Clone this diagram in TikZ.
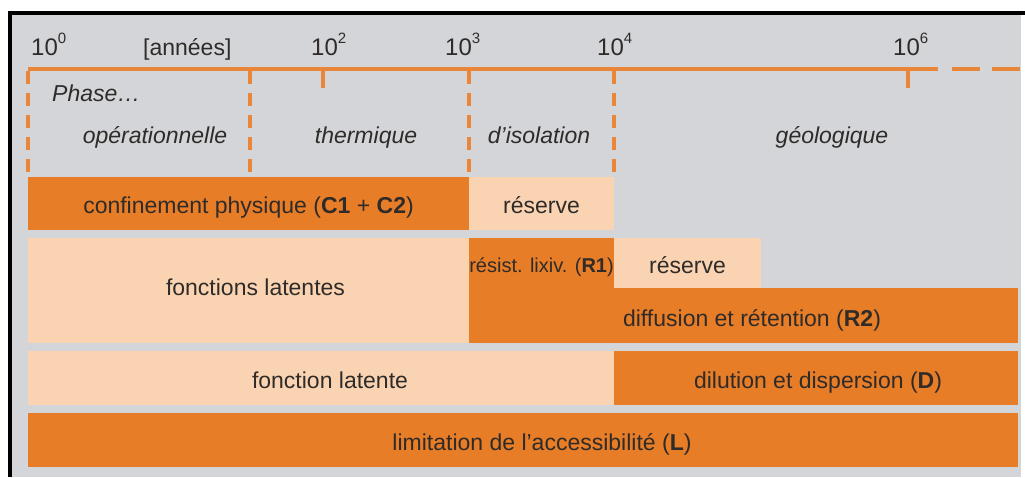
\documentclass[tikz,border=0pt]{standalone}
\usepackage{fontspec}
\setmainfont{Liberation Sans}
\definecolor{panel}{HTML}{D3D5D9}
\definecolor{hot}{HTML}{E87D28}
\definecolor{pale}{HTML}{FAD4B2}
\definecolor{axisc}{HTML}{E9863A}
\definecolor{ink}{HTML}{2F2B29}
\newcommand\pw[1]{10\raisebox{0.5em}{\fontsize{15}{15}\selectfont #1}}
\begin{document}
\begin{tikzpicture}[x=1pt,y=-1pt,
  txt/.style={text=ink,font=\fontsize{23}{27}\selectfont,inner sep=0pt},
  lbl/.style={txt,anchor=base},
  scale lbl/.style={txt,anchor=base west,font=\fontsize{24}{28}\selectfont},
  phase/.style={txt,font=\fontsize{23}{27}\selectfont\itshape},
  box/.style={inner sep=0pt,outer sep=0pt,draw=none},
  hotbox/.style={box,fill=hot},
  palebox/.style={box,fill=pale},
  axisline/.style={draw=axisc,line width=3.5pt},
  limit/.style={axisline,dash pattern=on 13pt off 9pt},
  tick/.style={axisline}]
% frame and background
\useasboundingbox (0,0) rectangle (1025,477);
\fill[white] (0,0) rectangle (1025,477);
\fill[panel] (8,11) rectangle (1021,477);
\draw[black,line width=4pt] (10,477) -- (10,13) -- (1025,13);

% time scale
\node[scale lbl] (t0) at (31,55) {\pw{0}};
\node[txt,anchor=base west] (unit) at (143,55) {[années]};
\node[scale lbl] (t2) at (311,55) {\pw{2}};
\node[scale lbl] (t3) at (445,55) {\pw{3}};
\node[scale lbl] (t4) at (597,55) {\pw{4}};
\node[scale lbl] (t6) at (893,55) {\pw{6}};

\coordinate (a0) at (28,69);
\coordinate (a1) at (250,69);
\coordinate (a2) at (323,69);
\coordinate (a3) at (469,69);
\coordinate (a4) at (614,69);
\coordinate (a6) at (908,69);
\coordinate (aend) at (938,69);
\coordinate (d1s) at (952,69);
\coordinate (d1e) at (980,69);
\coordinate (d2s) at (992,69);
\coordinate (d2e) at (1020,69);
\draw[axisline] (a0) -- (aend);
\draw[axisline] (d1s) -- (d1e);
\draw[axisline] (d2s) -- (d2e);
\draw[tick] (a2) -- ++(0,19);
\draw[tick] (a6) -- ++(0,19);
\foreach \c in {a0,a1,a3,a4}
  \draw[limit] ([yshift=-1.7pt]\c) -- ++(0,104);

% phases
\node[phase,anchor=base west] (ph) at (52,101) {Phase\ldots};
\node[phase,anchor=base] (p1) at (155,143) {opérationnelle};
\node[phase,anchor=base] (p2) at (366,143) {thermique};
\node[phase,anchor=base] (p3) at (539,143) {d’isolation};
\node[phase,anchor=base] (p4) at (832,143) {géologique};

% barrier functions
\node[hotbox,minimum width=441,minimum height=53] (c12) at (248.5,203.5) {};
\node[palebox,minimum width=145,minimum height=53] (res1) at (541.5,203.5) {};
\node[palebox,minimum width=441,minimum height=105] (lat1) at (248.5,290.5) {};
\node[hotbox,minimum width=549,minimum height=55] (r2) at (743.5,315.5) {};
\node[hotbox,minimum width=145,minimum height=50.5] (r1) at (541.5,263) {};
\node[palebox,minimum width=147,minimum height=50.5] (res2) at (687.5,263) {};
\node[palebox,minimum width=586,minimum height=54] (lat2) at (321,378) {};
\node[hotbox,minimum width=404,minimum height=54] (dd) at (816,378) {};
\node[hotbox,minimum width=990,minimum height=54] (lim) at (523,440) {};

\node[lbl] (c12t) at ([yshift=-9.8pt]c12.center) {confinement physique (\textbf{C1} + \textbf{C2})};
\node[lbl] (res1t) at ([yshift=-9.8pt]res1.center) {réserve};
\node[lbl] (lat1t) at ([xshift=7pt,yshift=-4.5pt]lat1.center) {fonctions latentes};
\node[lbl,font=\fontsize{20}{24}\selectfont] (r1t) at ([yshift=-9.5pt]r1.center) {résist. lixiv. (\textbf{R1})};
\node[lbl] (res2t) at ([yshift=-10pt]res2.center) {réserve};
\node[lbl] (r2t) at ([xshift=8.5pt,yshift=-11pt]r2.center) {diffusion et rétention (\textbf{R2})};
\node[lbl] (lat2t) at ([xshift=9pt,yshift=-10pt]lat2.center) {fonction latente};
\node[lbl] (ddt) at ([xshift=2pt,yshift=-10pt]dd.center) {dilution et dispersion (\textbf{D})};
\node[lbl] (limt) at ([xshift=19pt,yshift=-10pt]lim.center) {limitation de l’accessibilité (\textbf{L})};
\end{tikzpicture}
\end{document}
